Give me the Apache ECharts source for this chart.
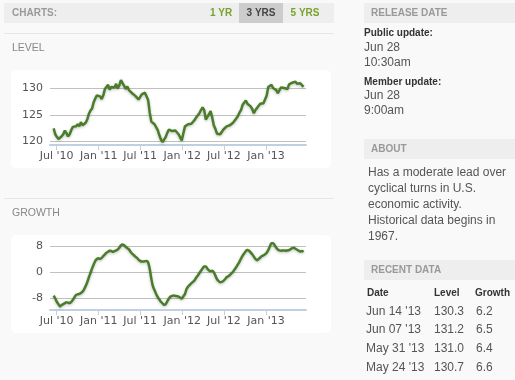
<!DOCTYPE html>
<html><head><meta charset="utf-8">
<script src="https://cdn.jsdelivr.net/npm/echarts@6/dist/echarts.min.js"></script>
<style>html,body{margin:0;padding:0;background:#f9f9f9}#c{width:515px;height:380px}</style>
</head><body><div id="c"></div>
<script>
// weekly data, first week ending 2010-06-18, last 2013-06-14
const firstWeek = [2010, 5, 18];
const levelValues = [
122.4,121.3,120.8,120.4,120.6,120.9,121.3,122.0,121.5,120.9,
121.3,122.1,122.7,122.6,122.8,123.2,122.8,123.6,123.0,122.9,
123.5,124.1,125.2,125.8,126.2,127.4,128.1,128.7,128.5,128.5,
128.0,128.7,129.9,129.9,130.7,129.8,130.3,130.0,130.2,130.9,
130.0,130.6,131.6,131.7,130.5,129.9,130.4,129.7,129.4,129.1,
128.8,128.6,128.3,127.9,128.1,128.9,128.8,129.2,129.4,127.8,
125.4,123.7,123.4,123.2,123.0,122.1,121.1,120.3,119.8,120.1,
120.8,121.6,122.2,122.4,121.9,122.2,122.0,122.1,121.3,120.7,
120.1,121.5,122.8,123.1,123.2,123.4,123.3,123.5,124.0,124.5,
124.8,125.3,125.9,126.4,125.9,124.1,124.6,125.1,125.7,124.5,
123.0,122.3,121.4,121.4,121.3,121.5,122.2,122.2,122.8,122.5,
123.0,123.2,123.5,123.8,124.3,124.7,125.4,125.9,126.9,127.1,
127.7,127.1,126.9,126.6,126.1,125.3,125.9,126.3,126.7,127.1,
127.4,127.2,127.1,128.6,130.3,130.6,130.7,130.1,130.1,129.7,
129.1,129.7,130.2,130.1,130.1,130.0,129.9,130.8,131.0,131.1,
131.0,131.3,130.9,130.7,131.0,131.2,130.3];
const growthValues = [
-7.1,-8.0,-9.0,-9.7,-10.4,-10.0,-9.7,-9.4,-9.1,-9.3,
-9.4,-9.0,-8.4,-7.6,-6.9,-6.7,-6.6,-6.3,-5.9,-5.2,
-4.2,-3.0,-1.5,-0.2,1.2,2.4,3.5,4.1,4.3,4.1,
4.4,5.0,5.5,6.0,6.3,6.6,6.5,6.3,6.5,6.7,
7.0,7.5,8.2,8.5,8.3,7.8,7.4,7.0,6.3,5.7,
5.3,4.8,4.4,3.9,3.5,3.3,3.3,3.4,3.5,3.0,
1.0,-2.0,-4.3,-5.5,-6.6,-7.6,-8.3,-9.0,-9.5,-9.9,
-9.7,-8.8,-8.0,-7.4,-7.2,-7.1,-7.2,-7.3,-7.4,-7.7,
-8.0,-7.3,-6.6,-5.1,-4.3,-3.8,-3.3,-2.9,-2.4,-1.6,
-1.0,-0.2,0.5,1.2,1.8,1.8,1.1,0.6,0.3,0.5,
0.0,-1.0,-2.1,-2.7,-3.0,-2.9,-2.6,-2.1,-1.5,-1.2,
-0.8,-0.3,0.2,0.9,1.6,2.4,3.2,4.2,5.1,5.8,
6.5,6.8,6.6,6.1,5.5,4.8,4.1,3.7,4.1,4.5,
5.0,5.2,5.5,6.0,6.8,7.9,8.9,8.9,8.3,7.5,
7.0,6.7,6.6,6.7,6.7,6.6,6.7,6.8,7.1,7.4,
7.5,7.2,6.9,6.6,6.4,6.5,6.2];
const xTickDates = [[2010,6,1],[2011,0,1],[2011,6,1],[2012,0,1],[2012,6,1],[2013,0,1]];
const levelTicks = [120, 125, 130];
const growthTicks = [-8, 0, 8];
const rangeButtons = ['1 YR', '3 YRS', '5 YRS'];
const recentDates = ["Jun 14 '13", "Jun 07 '13", "May 31 '13", "May 24 '13"];
const recentLevel = ['130.3', '131.2', '131.0', '130.7'];
const recentGrowth = ['6.2', '6.5', '6.4', '6.6'];
const aboutLines = ['Has a moderate lead over', 'cyclical turns in U.S.', 'economic activity.', 'Historical data begins in', '1967.'];

const DAY = 86400000;
const t0 = Date.UTC(firstWeek[0], firstWeek[1], firstWeek[2]);
const weekTs = levelValues.map((_, i) => t0 + i * 7 * DAY);
const levelData = levelValues.map((v, i) => [weekTs[i], v]);
const growthData = growthValues.map((v, i) => [weekTs[i], v]);
const xTicks = xTickDates.map(d => Date.UTC(d[0], d[1], d[2]));
const xMin = Date.UTC(2010, 5, 2), xMax = Date.UTC(2013, 5, 25);
const MONTHS = ['Jan','Feb','Mar','Apr','May','Jun','Jul','Aug','Sep','Oct','Nov','Dec'];
function fmtX(v) { const d = new Date(v); return MONTHS[d.getUTCMonth()] + " '" + String(d.getUTCFullYear()).slice(2); }

const AX = 'DejaVu Sans, Verdana, sans-serif';
const TX = 'Liberation Sans, Arial, sans-serif';
function xAxisCfg(g) {
  return {
    type: 'value', gridIndex: g, min: xMin, max: xMax,
    axisLine: { show: true, onZero: false, lineStyle: { color: '#c0d0e0', width: 2 } },
    axisTick: { show: true, customValues: xTicks, length: 5, lineStyle: { color: '#c0d0e0', width: 1 } },
    axisLabel: { customValues: xTicks, formatter: fmtX, color: '#555', fontSize: 11, fontFamily: AX, margin: 6 },
    splitLine: { show: false }
  };
}
function yAxisCfg(g, min, max, ticks) {
  return {
    type: 'value', gridIndex: g, min: min, max: max,
    axisLine: { show: false },
    axisTick: { show: false, customValues: ticks },
    axisLabel: { customValues: ticks, color: '#555', fontSize: 11, fontFamily: AX, margin: 7 },
    splitLine: { show: true, lineStyle: { color: '#c0c0c0', width: 1 } }
  };
}
const lineStyle = { color: '#4a7d2a', width: 2.5, shadowColor: 'rgba(0,0,0,0.25)', shadowBlur: 3, shadowOffsetY: 1 };

function txt(text, x, y, size, color, weight, align, family) {
  return { type: 'text', silent: true, style: {
    text: text, x: x, y: y, fill: color, fontSize: size, fontWeight: weight || 'normal',
    fontFamily: family || TX, align: align || 'left', textAlign: align || 'left',
    verticalAlign: 'middle', textVerticalAlign: 'middle' } };
}
function rect(x, y, w, h, fill, r) {
  return { type: 'rect', silent: true, z: -10, shape: { x: x, y: y, width: w, height: h, r: r || 0 }, style: { fill: fill } };
}

const graphics = [
  rect(4, 3, 330, 20, '#eeeeee'),
  rect(239, 3, 44, 20, '#cccccc'),
  txt('CHARTS:', 12, 13, 10, '#999', 'bold'),
  txt(rangeButtons[0], 221, 13, 10, '#78a22c', 'bold', 'center'),
  txt(rangeButtons[1], 261, 13, 10, '#444', 'bold', 'center'),
  txt(rangeButtons[2], 305, 13, 10, '#78a22c', 'bold', 'center'),
  rect(4, 33, 330, 1, '#e6e6e6'),
  txt('LEVEL', 12, 48, 10.5, '#888'),
  rect(11, 70, 320, 98, '#ffffff', 5),
  rect(4, 198, 330, 1, '#e6e6e6'),
  txt('GROWTH', 12, 213, 10.5, '#888'),
  rect(11, 235, 320, 98, '#ffffff', 5),
  rect(364, 3, 151, 20, '#eeeeee'),
  txt('RELEASE DATE', 371, 13, 10, '#999', 'bold'),
  txt('Public update:', 364, 33, 10, '#333', 'bold'),
  txt('Jun 28', 364, 48, 12, '#555'),
  txt('10:30am', 364, 63, 12, '#555'),
  txt('Member update:', 364, 82, 10, '#333', 'bold'),
  txt('Jun 28', 364, 96, 12, '#555'),
  txt('9:00am', 364, 111, 12, '#555'),
  rect(364, 139, 151, 20, '#eeeeee'),
  txt('ABOUT', 371, 149, 10, '#999', 'bold'),
  rect(364, 260, 151, 20, '#eeeeee'),
  txt('RECENT DATA', 371, 270, 10, '#999', 'bold'),
  txt('Date', 367, 293, 10, '#333', 'bold'),
  txt('Level', 434, 293, 10, '#333', 'bold'),
  txt('Growth', 475, 293, 10, '#333', 'bold')
];
aboutLines.forEach((l, i) => graphics.push(txt(l, 368, 173 + i * 16, 12, '#555')));
recentDates.forEach((d, i) => {
  const y = 311.5 + i * 18.6;
  graphics.push(txt(d, 366, y, 12, '#555'));
  graphics.push(txt(recentLevel[i], 434, y, 12, '#555'));
  graphics.push(txt(recentGrowth[i], 476, y, 12, '#555'));
});

const chart = echarts.init(document.getElementById('c'), null, { renderer: 'canvas' });
chart.setOption({
  animation: false,
  backgroundColor: '#f9f9f9',
  grid: [
    { left: 50, width: 256, top: 78, height: 67 },
    { left: 50, width: 256, top: 239.6, height: 70.4 }
  ],
  xAxis: [xAxisCfg(0), xAxisCfg(1)],
  yAxis: [yAxisCfg(0, 119.25, 132, levelTicks), yAxisCfg(1, -11.5, 10, growthTicks)],
  series: [
    { type: 'line', xAxisIndex: 0, yAxisIndex: 0, data: levelData, showSymbol: false, lineStyle: lineStyle, z: 3 },
    { type: 'line', xAxisIndex: 1, yAxisIndex: 1, data: growthData, showSymbol: false, smooth: 0.3, lineStyle: lineStyle, z: 3 }
  ],
  graphic: graphics
});
</script></body></html>
